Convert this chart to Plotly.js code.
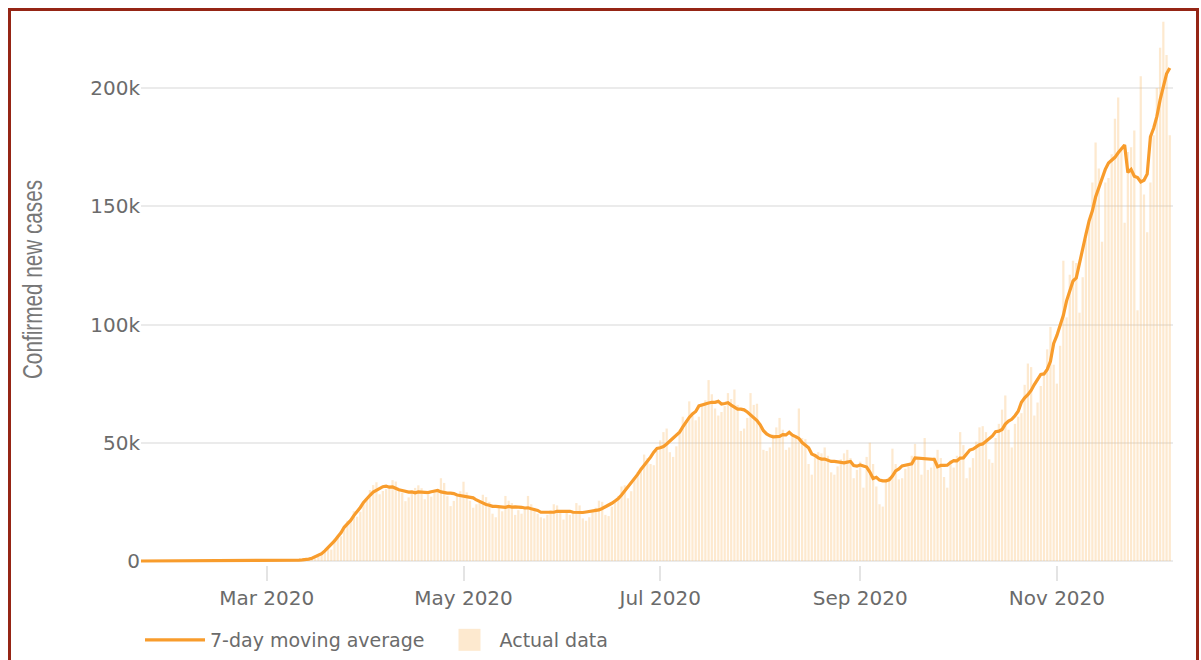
<!DOCTYPE html>
<html>
<head>
<meta charset="utf-8">
<script src="https://cdn.plot.ly/plotly-3.0.1.min.js"></script>
<style>
  html, body { margin: 0; padding: 0; background: #ffffff; overflow: hidden; }
  #chart { position: absolute; left: 0; top: 0; width: 1201px; height: 660px; }
  #frame { position: absolute; left: 8px; top: 8px; width: 1191px; height: 720px;
           border: 3px solid #952515; box-sizing: border-box; pointer-events: none; }
</style>
</head>
<body>
<div id="chart"></div>
<div id="frame"></div>
<script>
// Daily confirmed new cases (thousands), by month, 2020-01-22 .. 2020-12-06
const casesJan = [0.001,0,0.001,0,0.003,0,0,0,0.001,0.001];
const casesFeb = [0.001,0.001,0,0,0.001,0,0,0,0.001,0,0,0.001,0,0,0,0,0,0,0,0.002,0.018,0,0,0.018,0,0.001,0.001,0.002,0.008];
const casesMar = [0.01,0.025,0.024,0.034,0.063,0.098,0.116,0.106,0.163,0.29,0.307,0.329,0.553,0.587,0.843,0.983,1.748,2.853,4.582,5.588,4.825,9.4,9.913,10.433,14.634,17.0,17.33,21.06,18.74,20.8,24.7];
const casesApr = [25.8,30.0,32.1,33.3,28.2,29.6,30.4,32.0,34.2,33.6,30.1,28.9,25.3,26.9,29.5,30.9,32.0,30.8,26.1,28.0,27.2,29.0,29.3,35.0,33.0,27.4,23.2,25.4,27.3,29.5];
const casesMay = [33.5,29.0,25.5,22.5,24.0,24.5,28.0,27.0,25.0,20.0,18.5,22.5,21.0,27.5,25.5,24.5,19.5,21.5,20.0,22.0,27.5,24.0,22.5,20.0,18.5,18.0,19.5,21.5,24.0,23.5,20.5];
const casesJun = [17.5,20.5,19.5,21.0,24.5,23.5,18.0,17.0,18.5,21.0,22.5,25.5,25.0,19.5,19.0,23.0,25.5,27.5,31.5,32.0,26.5,29.5,35.0,37.5,39.5,45.0,43.5,41.0,40.5,46.5];
const casesJul = [51.0,54.5,56.0,46.0,44.0,48.5,55.0,61.0,59.5,67.5,61.5,59.5,61.0,65.5,68.0,76.5,70.5,64.5,61.5,63.0,65.5,71.0,68.5,72.5,66.0,55.0,56.0,60.5,71.0,66.0,66.5];
const casesAug = [58.0,47.0,46.5,48.0,53.5,56.5,60.5,55.5,47.0,48.0,52.5,53.0,64.5,52.0,51.5,41.0,36.5,44.0,46.0,45.5,48.0,44.5,37.5,36.5,40.0,43.0,45.5,47.0,43.5,35.0,38.5];
const casesSep = [42.0,31.0,44.0,50.0,41.0,31.5,24.0,23.0,34.5,35.5,47.5,41.0,34.5,35.0,39.0,40.0,44.5,49.5,43.5,36.5,52.0,38.5,39.5,44.0,47.0,43.5,35.5,31.0,42.5,39.5];
const casesOct = [44.5,54.5,49.0,35.0,39.5,43.5,50.5,56.5,57.0,54.5,43.0,41.5,52.0,58.0,64.0,70.0,55.5,48.0,58.0,61.0,62.5,74.5,83.5,82.0,61.5,67.0,74.0,79.5,89.5,99.0,83.0];
const casesNov = [75.0,91.0,127.0,103.0,121.0,127.0,126.0,105.0,120.0,136.0,143.0,160.0,177.0,166.0,135.0,160.0,162.0,172.0,187.0,196.0,175.0,143.0,173.0,175.0,182.0,106.0,205.0,155.0,139.0,160.0];
const casesDec = [180.0,200.0,217.0,228.0,214.0,180.0];

// 7-day moving average (thousands)
const avgJan = [0,0,0,0,0,0,0,0,0,0];
const avgFeb = [0,0,0,0,0,0,0,0,0,0,0,0,0,0,0,0,0,0.003,0.003,0.003,0.005,0.005,0.006,0.005,0.003,0.004,0.006,0.007,0.01];
const avgMar = [0.015,0.024,0.037,0.053,0.067,0.086,0.124,0.163,0.201,0.266,0.334,0.439,0.556,0.764,1.128,1.736,2.455,3.06,4.283,5.558,6.799,8.482,10.256,11.934,14.253,15.587,17.142,19.18,20.776,22.633,24.743];
const avgApr = [26.5,27.8,29.1,29.9,30.8,31.4,31.6,31.2,31.3,30.6,30.1,29.8,29.3,29.1,29.2,28.8,29.2,29.2,29.1,28.9,29.3,29.7,29.8,29.2,28.9,28.7,28.7,28.5,27.9,27.6];
const avgMay = [27.5,27.3,26.9,26.7,25.8,25.2,24.4,23.9,23.6,23.1,23.1,22.9,22.8,22.7,23.1,22.8,22.9,22.9,22.7,22.4,22.5,22.1,21.8,21.4,20.6,20.6,20.7,20.8,20.6,21.0,21.0];
const avgJun = [20.9,21.0,21.0,20.6,20.6,20.3,20.5,20.7,20.9,21.1,21.3,21.6,22.2,22.9,23.6,24.4,25.4,26.4,27.9,29.6,31.4,33.1,35.0,36.6,38.7,40.3,41.9,43.9,46.0,47.6];
const avgJul = [47.9,48.4,49.5,50.7,52.1,52.9,54.5,56.7,58.9,60.7,62.2,63.2,65.6,66.1,66.5,66.8,67.1,67.1,67.5,66.4,66.6,66.9,65.9,64.9,64.2,64.2,63.9,63.0,61.9,60.7,59.4];
const avgAug = [57.6,55.1,53.7,52.9,52.5,52.5,52.7,53.4,53.3,54.4,53.2,52.6,51.8,50.1,48.9,47.9,45.2,44.6,43.6,43.1,43.1,42.6,42.1,42.1,42.0,41.9,41.5,41.8,42.1,40.4,40.1];
const avgSep = [40.6,40.2,39.7,37.6,34.9,35.4,34.2,33.9,33.9,34.3,35.9,38.1,38.9,40.2,40.5,40.9,41.1,43.6,43.5,43.4,43.4,43.0,43.0,42.9,39.9,40.4,40.4,40.5,41.6,42.4];
const avgOct = [42.3,43.5,43.6,45.2,46.9,47.3,48.1,49.2,49.5,50.7,51.8,52.9,54.7,54.9,55.6,57.9,59.2,59.9,61.4,63.3,67.1,69.0,70.3,72.1,74.6,76.7,78.9,79.1,81.0,84.4,92.0];
const avgNov = [95.4,99.9,103.9,110.0,114.3,118.4,119.7,125.4,131.0,138.1,143.9,148.1,153.9,157.6,161.7,165.6,168.3,169.6,170.7,172.6,174.4,175.9,164.3,165.6,162.7,162.1,160.3,161.0,163.6,179.4];
const avgDec = [183.0,188.0,195.0,201.0,206.0,208.5];

const monthNums = ['01','02','03','04','05','06','07','08','09','10','11','12'];
const monthStartDay = [22,1,1,1,1,1,1,1,1,1,1,1];
const casesByMonth = [casesJan,casesFeb,casesMar,casesApr,casesMay,casesJun,casesJul,casesAug,casesSep,casesOct,casesNov,casesDec];
const avgByMonth = [avgJan,avgFeb,avgMar,avgApr,avgMay,avgJun,avgJul,avgAug,avgSep,avgOct,avgNov,avgDec];

const yTickVals = [0, 50, 100, 150, 200];
const yTickText = ['0', '50k', '100k', '150k', '200k'];

const dates = [], cases = [], avg = [];
casesByMonth.forEach(function (arr, m) {
  arr.forEach(function (v, i) {
    const day = monthStartDay[m] + i;
    dates.push('2020-' + monthNums[m] + '-' + (day < 10 ? '0' + day : '' + day));
    cases.push(v);
    avg.push(avgByMonth[m][i]);
  });
});

const tickFont = { family: 'DejaVu Sans, Verdana, sans-serif', size: 20, color: '#6b6b6b' };

const traces = [
  {
    type: 'bar',
    name: 'Actual data',
    x: dates,
    y: cases,
    marker: { color: 'rgba(250,190,115,0.34)', line: { width: 0 } },
    hovertemplate: '%{x|%b %d}: %{y}k<extra></extra>'
  },
  {
    type: 'scatter',
    mode: 'lines',
    name: '7-day moving average',
    x: dates,
    y: avg,
    line: { color: '#f89c2c', width: 3.2, shape: 'linear' },
    hovertemplate: '%{x|%b %d}: %{y}k<extra></extra>'
  }
];

const layout = {
  width: 1201,
  height: 660,
  margin: { l: 141, r: 28, t: 10, b: 95 },
  paper_bgcolor: '#ffffff',
  plot_bgcolor: '#ffffff',
  bargap: 0.3,
  showlegend: true,
  legend: {
    orientation: 'h',
    xref: 'container', yref: 'container',
    x: 140 / 1201, xanchor: 'left',
    y: 20 / 660, yanchor: 'middle',
    traceorder: 'reversed',
    itemwidth: 60,
    font: { family: 'DejaVu Sans, Verdana, sans-serif', size: 19, color: '#6b6b6b' }
  },
  xaxis: {
    type: 'date',
    range: ['2020-01-22', '2020-12-07'],
    tick0: '2020-03-01',
    dtick: 'M2',
    tickformat: '%b %Y',
    ticks: 'outside',
    ticklen: 15,
    tickwidth: 1.5,
    tickcolor: '#e4e4e4',
    showgrid: false,
    showline: false,
    zeroline: false,
    automargin: false,
    tickfont: tickFont
  },
  yaxis: {
    range: [-1.7, 233],
    tickvals: yTickVals,
    ticktext: yTickText,
    showgrid: true,
    gridcolor: '#ebebeb',
    gridwidth: 1.5,
    zeroline: false,
    showline: false,
    ticks: '',
    tickfont: tickFont,
    automargin: true,
    title: {
      text: 'Confirmed new cases',
      standoff: 30,
      font: { family: 'Liberation Sans Narrow, Liberation Sans, Arial, sans-serif', size: 28, color: '#777777' }
    }
  }
};

Plotly.newPlot('chart', traces, layout, { displayModeBar: false, responsive: false }).then(function (gd) {
  // The source's axis title is set in a tall, condensed face: compress it along its length.
  const t = gd.querySelector('.g-ytitle text');
  if (t) {
    const x = parseFloat(t.getAttribute('x'));
    const y = parseFloat(t.getAttribute('y'));
    const k = 0.74;
    t.setAttribute('transform',
      'translate(' + (42 - x) + ',-8) rotate(-90,' + x + ',' + y + ') translate(' + x + ',' + y + ') scale(' + k + ',1) translate(' + (-x) + ',' + (-y) + ')');
  }
  // The source's legend swatch for the bars is a larger square.
  gd.querySelectorAll('.legend .legendpoints path').forEach(function (p) {
    const d = (p.getAttribute('d') || '').replace(/\s/g, '');
    if (d === 'M6,6H-6V-6H6Z') p.setAttribute('d', 'M16,11H-6V-11H16Z');
  });
});
</script>
</body>
</html>
